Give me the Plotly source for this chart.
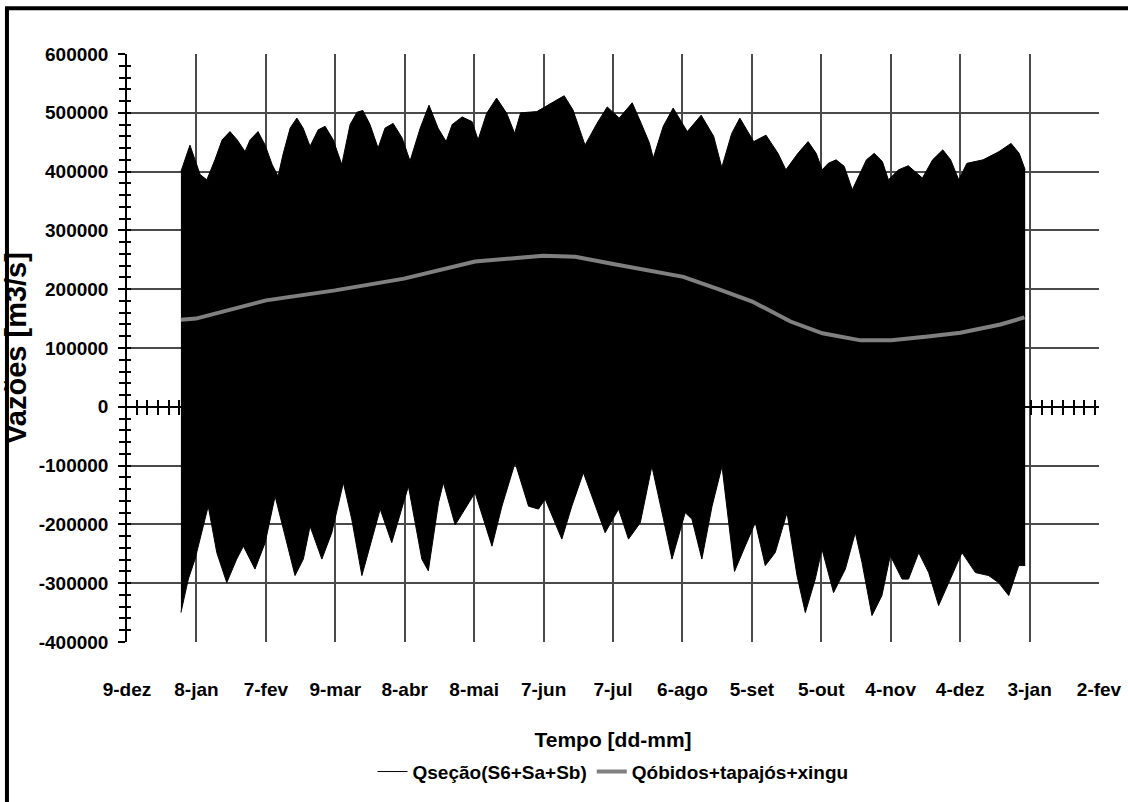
import plotly.graph_objects as go

# eixo x em dias contados a partir de 9-dez
tick_dias = [0, 30, 60, 90, 120, 150, 180, 210, 240, 270, 300, 330, 360, 390, 420]
tick_datas = ["9-dez", "8-jan", "7-fev", "9-mar", "8-abr", "8-mai", "7-jun", "7-jul",
              "6-ago", "5-set", "5-out", "4-nov", "4-dez", "3-jan", "2-fev"]
tick_vazoes = [600000, 500000, 400000, 300000, 200000, 100000, 0,
               -100000, -200000, -300000, -400000]
tick_vazoes_txt = ["600000", "500000", "400000", "300000", "200000", "100000", "0",
                   "-100000", "-200000", "-300000", "-400000"]

# Qseção(S6+Sa+Sb): envoltórias superior e inferior da oscilação de maré
dia_max = [23.3, 27.2, 31.6, 34.5, 38.0, 41.1, 44.5, 47.6, 51.0, 53.2,
           56.6, 59.7, 62.7, 65.3, 67.4, 70.5, 73.4, 76.1, 79.1, 82.6,
           85.6, 89.1, 92.8, 96.4, 99.4, 101.9, 105.0, 108.5, 111.5, 115.0,
           118.9, 122.3, 126.7, 130.5, 134.4, 137.9, 140.5, 144.8, 149.1, 151.7,
           155.4, 159.7, 164.1, 167.5, 170.1, 177.1, 185.8, 188.9, 192.7, 197.9,
           203.1, 207.5, 212.7, 218.3, 222.2, 225.7, 227.4, 231.7, 236.0, 242.1,
           248.1, 253.5, 257.0, 261.3, 264.8, 270.8, 276.1, 281.3, 284.7, 289.9,
           294.3, 297.8, 300.4, 303.0, 306.4, 309.9, 313.4, 319.5, 322.9, 326.4,
           329.0, 333.4, 337.6, 341.2, 343.7, 348.1, 352.5, 355.9, 359.4, 362.9,
           369.9, 376.8, 382.0, 385.5, 388.1]
q_max = [400000, 445000, 395000, 386000, 420000, 454000, 468000, 454000, 434000, 454000,
         468000, 445000, 412000, 392000, 429000, 474000, 491000, 474000, 443000, 471000,
         477000, 454000, 412000, 480000, 501000, 504000, 480000, 440000, 474000, 482000,
         457000, 418000, 474000, 513000, 474000, 451000, 480000, 493000, 485000, 454000,
         499000, 525000, 499000, 465000, 500000, 502000, 522000, 529000, 505000, 445000,
         482000, 510000, 491000, 517000, 482000, 449000, 423000, 477000, 508000, 468000,
         496000, 460000, 407000, 465000, 491000, 451000, 462000, 431000, 403000, 431000,
         451000, 431000, 403000, 414000, 420000, 409000, 369000, 420000, 431000, 417000,
         386000, 403000, 410000, 397000, 389000, 420000, 437000, 420000, 386000, 414000,
         420000, 434000, 448000, 431000, 403000]

dia_min = [23.3, 26.5, 29.4, 31.6, 35.1, 38.8, 43.1, 47.4, 50.3, 55.3,
           59.7, 64.0, 68.3, 72.6, 76.2, 79.1, 84.2, 88.5, 93.5, 97.1,
           101.5, 105.8, 109.4, 114.4, 121.6, 127.4, 130.2, 134.6, 136.7, 141.8,
           150.4, 157.7, 162.0, 167.7, 173.5, 177.8, 180.7, 187.9, 192.2, 197.2,
           202.3, 206.6, 212.4, 216.7, 221.8, 226.8, 231.8, 235.5, 241.2, 244.1,
           248.4, 252.8, 257.1, 262.5, 267.1, 271.5, 275.8, 280.1, 285.2, 289.5,
           293.1, 297.4, 300.3, 305.3, 310.4, 314.7, 317.6, 321.9, 326.2, 329.8,
           334.9, 337.7, 342.1, 346.4, 350.7, 355.1, 360.8, 366.6, 372.3, 376.6,
           381.0, 385.3, 388.1]
q_min = [-350000, -293000, -259000, -225000, -169000, -248000, -299000, -259000, -237000, -276000,
         -231000, -152000, -220000, -287000, -259000, -203000, -259000, -214000, -129000, -191000,
         -287000, -225000, -174000, -231000, -135000, -259000, -279000, -163000, -129000, -201000,
         -146000, -237000, -169000, -95000, -169000, -174000, -157000, -225000, -169000, -112000,
         -169000, -214000, -174000, -225000, -197000, -101000, -191000, -259000, -180000, -191000,
         -259000, -169000, -101000, -280000, -237000, -197000, -270000, -248000, -180000, -287000,
         -350000, -293000, -242000, -316000, -276000, -214000, -265000, -355000, -321000, -253000,
         -293000, -293000, -248000, -282000, -338000, -299000, -248000, -282000, -287000, -299000,
         -321000, -270000, -270000]

# Qóbidos+tapajós+xingu
dia_obidos = [23.3, 29.8, 60.1, 89.9, 119.7, 150.4, 179.8, 193.7, 210.1, 240.4,
              256.4, 270.2, 286.7, 300.5, 317.0, 330.3, 347.1, 360.1, 377.4, 387.8]
q_obidos = [148000, 150000, 181000, 198000, 218000, 247000, 257000, 255000, 243000, 221000,
            199000, 179000, 145000, 125000, 113000, 113000, 120000, 126000, 140000, 152000]

FONTE = "Liberation Sans, Arial, sans-serif"
GRADE = "#4a4a4a"
x_range = [0, 420]
y_range = [-400000, 600000]

fig = go.Figure()

# envoltória inferior (leva a legenda) e superior preenchida até ela
fig.add_trace(go.Scatter(x=dia_min, y=q_min, mode="lines", name="Qseção(S6+Sa+Sb)",
                         line=dict(color="black", width=1), hoverinfo="skip"))
fig.add_trace(go.Scatter(x=dia_max, y=q_max, mode="lines", fill="tonexty",
                         fillcolor="black", line=dict(color="black", width=1),
                         showlegend=False, hoverinfo="skip"))
fig.add_trace(go.Scatter(x=dia_obidos, y=q_obidos, mode="lines", name="Qóbidos+tapajós+xingu",
                         line=dict(color="#808080", width=4)))
# traços vazios só para que os eixos auxiliares (marcas cruzadas) sejam desenhados
fig.add_trace(go.Scatter(x=[], y=[], xaxis="x2", yaxis="y2", showlegend=False, hoverinfo="skip"))
fig.add_trace(go.Scatter(x=[], y=[], xaxis="x3", yaxis="y", showlegend=False, hoverinfo="skip"))

fig.update_layout(
    width=1128, height=802,
    margin=dict(l=127, r=29, t=54, b=159),
    paper_bgcolor="white", plot_bgcolor="white",
    font=dict(family=FONTE, size=19, color="black", weight="bold"),
    showlegend=True,
    legend=dict(orientation="h", x=0.5, xanchor="center", y=-0.2185, yanchor="middle",
                traceorder="normal", font=dict(size=19), bgcolor="rgba(0,0,0,0)"),
    xaxis=dict(range=x_range, tickvals=tick_dias, ticktext=tick_datas, automargin=False,
               showgrid=True, gridcolor=GRADE, gridwidth=1.5, tickangle=0,
               zeroline=False, showline=False, ticks="", ticklabelstandoff=34,
               title=dict(text="Tempo [dd-mm]", standoff=33, font=dict(size=21))),
    # eixo horizontal cruzando em zero, com marcas dos dois lados
    xaxis2=dict(range=x_range, overlaying="x", anchor="free", position=0.4, side="bottom",
                showline=True, linecolor="black", linewidth=1.5, layer="below traces",
                ticks="outside", ticklen=7, tickwidth=1.5, tickcolor="black", automargin=False,
                tick0=4.2, dtick=4.6, showticklabels=False, showgrid=False, zeroline=False),
    xaxis3=dict(range=x_range, overlaying="x", anchor="free", position=0.4, side="top",
                showline=False, layer="below traces", automargin=False,
                ticks="outside", ticklen=7, tickwidth=1.5, tickcolor="black",
                tick0=4.2, dtick=4.6, showticklabels=False, showgrid=False, zeroline=False),
    yaxis=dict(range=y_range, tickvals=tick_vazoes, ticktext=tick_vazoes_txt, automargin=False,
               showgrid=True, gridcolor=GRADE, gridwidth=1.5, zeroline=False,
               showline=True, linecolor="black", linewidth=1.5,
               ticks="outside", ticklen=7, tickwidth=1.5, tickcolor="black",
               minor=dict(ticks="outside", ticklen=6, tickwidth=1.5, tickcolor="black",
                          dtick=20000, showgrid=False),
               ticklabelstandoff=6,
               title=dict(text="Vazões [m3/s]", standoff=8, font=dict(size=29))),
    yaxis2=dict(range=y_range, overlaying="y", anchor="x", side="left", automargin=False,
                ticks="inside", ticklen=4, tickwidth=1.5, tickcolor="black",
                dtick=20000, tick0=0, showticklabels=False, showgrid=False,
                zeroline=False, showline=False),
)

# moldura externa da figura
fig.add_shape(type="rect", xref="paper", yref="paper",
              x0=-0.1235, x1=1.04, y0=-0.29, y1=1.078,
              line=dict(color="black", width=4), fillcolor="rgba(0,0,0,0)", layer="above")

# sem a margem padrão do <body>, a figura ocupa a janela exatamente
fig.write_html("out.html", config={"displayModeBar": False},
               post_script="document.body.style.margin='0';")
